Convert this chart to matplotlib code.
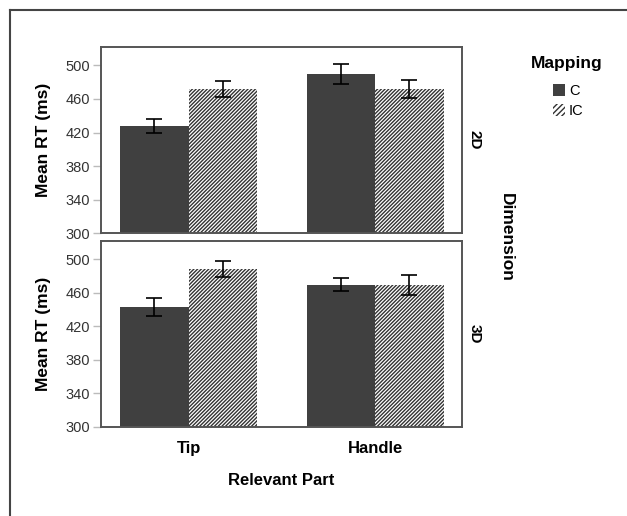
import numpy as np
import matplotlib
matplotlib.use('Agg')
import matplotlib.pyplot as plt
from matplotlib.patches import Patch
from matplotlib.lines import Line2D

plt.rcParams['font.family'] = ['Liberation Sans', 'DejaVu Sans']
plt.rcParams['hatch.linewidth'] = 1.0

# data
parts = ['Tip', 'Handle']
dims = ['2D', '3D']
c_means = {'2D': [428, 490], '3D': [443, 470]}
c_err = {'2D': [8, 12], '3D': [11, 8]}
ic_means = {'2D': [472, 472], '3D': [489, 469]}
ic_err = {'2D': [10, 11], '3D': [9.5, 12]}
yticks = [300, 340, 380, 420, 460, 500]

dark = '#404040'
spine_col = '#555555'
hatch = '/' * 9

fig = plt.figure(figsize=(6.27, 5.16), dpi=100)
boxes = [[0.161, 0.548, 0.576, 0.361], [0.161, 0.1725, 0.576, 0.3605]]

x = np.arange(len(parts))
w = 0.367
for i, d in enumerate(dims):
    ax = fig.add_axes(boxes[i])
    ax.bar(x - w / 2, c_means[d], w, color=dark, linewidth=0)
    ax.bar(x + w / 2, ic_means[d], w, color='white', edgecolor='#333333',
           hatch=hatch, linewidth=0)
    ax.errorbar(x - w / 2, c_means[d], yerr=c_err[d], fmt='none', ecolor='black',
                elinewidth=1.2, capsize=5.8, capthick=1.2)
    ax.errorbar(x + w / 2, ic_means[d], yerr=ic_err[d], fmt='none', ecolor='black',
                elinewidth=1.2, capsize=5.8, capthick=1.2)
    ax.set_ylim(300, 522)
    ax.set_xlim(-0.47, 1.466)
    ax.set_yticks(yticks)
    ax.set_yticklabels([str(t) for t in yticks], fontsize=10.5, color='#333333')
    ax.tick_params(axis='y', length=6, width=1, color='#bbbbbb', pad=2)
    for s in ax.spines.values():
        s.set_color(spine_col)
        s.set_linewidth(1.4)
    ax.set_ylabel('Mean RT (ms)', fontsize=12.5, fontweight='bold')
    ax.yaxis.set_label_coords(-0.137, 0.5)
    ax.text(1.034, 0.5, d, transform=ax.transAxes, rotation=-90, fontsize=11,
            fontweight='bold', ha='center', va='center')
    if i == 0:
        ax.set_xticks([])
    else:
        ax.set_xticks(x)
        ax.set_xticklabels(parts, fontsize=12, fontweight='bold')
        ax.tick_params(axis='x', length=0, pad=10)

fig.text(0.448, 0.068, 'Relevant Part', fontsize=12, fontweight='bold',
         ha='center', va='center')
fig.text(0.808, 0.54, 'Dimension', fontsize=12.5, fontweight='bold',
         rotation=-90, ha='center', va='center')

# legend
fig.text(0.904, 0.876, 'Mapping', fontsize=12.5, fontweight='bold',
         ha='center', va='center')
handles = [Patch(facecolor=dark, linewidth=0),
           Patch(facecolor='white', edgecolor='#333333', hatch='//////', linewidth=0)]
fig.legend(handles, ['C', 'IC'], loc='upper left', bbox_to_anchor=(0.882, 0.838),
           frameon=False, fontsize=10.5, handlelength=0.85, handleheight=0.9,
           handletextpad=0.25, labelspacing=0.45, borderpad=0, borderaxespad=0)

# partial frame around the figure (top and left edges)
fig.add_artist(Line2D([0.0152, 1.0], [0.9806, 0.9806], color='#444444', lw=1.5,
                      transform=fig.transFigure))
fig.add_artist(Line2D([0.0152, 0.0152], [0.0, 0.9806], color='#444444', lw=1.5,
                      transform=fig.transFigure))

fig.savefig('out.png', dpi=100)
